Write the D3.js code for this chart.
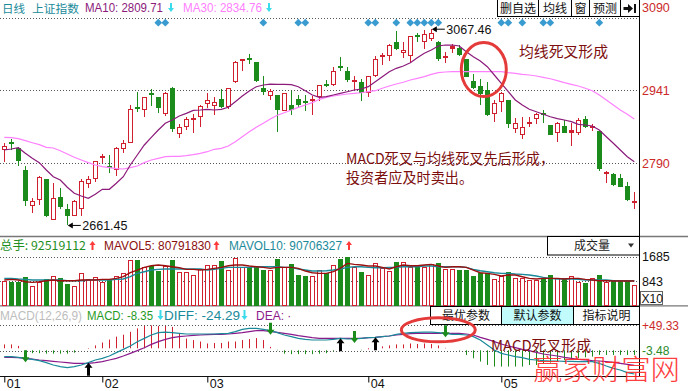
<!DOCTYPE html>
<html><head><meta charset="utf-8">
<script src="https://cdn.jsdelivr.net/npm/d3@7"></script>
<style>
html,body{margin:0;padding:0;background:#fff;}
svg{display:block;}
</style></head><body>
<svg id="c" width="688" height="391"></svg>
<script>
// ---------- data ----------
const openP = [2817,2833,2822,2776,2701,2714,2758,2673,2720,2696,2682,2696,2747,2757,2800,2782,2776,2820,2833,2905,2900,2934,2927,2891,2946,2850,2866,2880,2885,2912,
 2909,2923,2906,2958,3001,3006,2999,2946,2929,2931,2899,2910,2924,2917,2920,2927,2954,2953,2989,2982,2959,2958,2935,2971,3010,3012,3040,3018,3012,3053,
 3042,3047,3042,3008,3027,3028,3006,2960,2950,2942,2891,2917,2921,2860,2849,2872,2882,2892,2869,2852,2867,2852,2852,2882,2864,2857,2768,2768,2760,2744,2708];
const closeP = [2826,2832,2795,2711,2711,2762,2681,2718,2700,2682,2711,2753,2757,2794,2803,2780,2822,2831,2902,2903,2927,2932,2905,2935,2860,2866,2881,2882,2908,2922,
 2916,2906,2945,2999,3004,3004,2960,2938,2940,2900,2935,2900,2910,2915,2922,2951,2950,2980,2988,2962,2961,2935,2970,3005,3013,3034,3027,3024,3053,3051,
 3058,3060,3005,3010,3031,3015,2969,2945,2933,2890,2914,2936,2871,2874,2866,2874,2893,2890,2849,2874,2853,2857,2880,2866,2865,2779,2770,2745,2742,2714,2709];
const highP = [2831,2840,2823,2784,2718,2764,2758,2749,2739,2706,2714,2757,2764,2795,2809,2807,2823,2838,2911,2938,2927,2944,2928,2937,2948,2871,2885,2892,2910,2936,
 2928,2943,2946,3002,3006,3016,2999,2971,2943,2932,2936,2940,2931,2931,2929,2953,2963,2989,3010,2989,2971,2965,2970,3012,3018,3036,3064,3042,3053,3060,
 3066,3067.46,3043,3021,3037,3035,3006,2975,2964,2958,2921,2937,2921,2883,2885,2886,2895,2900,2869,2875,2880,2873,2884,2888,2871,2857,2775,2769,2768,2751,2731];
const lowP = [2793,2818,2784,2702,2688,2704,2679,2672,2695,2661.45,2681,2682,2738,2752,2790,2769,2764,2812,2832,2897,2886,2909,2895,2888,2855,2843,2859,2853,2866,2904,
 2890,2904,2902,2957,2982,2995,2958,2931,2920,2855,2898,2890,2904,2899,2889,2918,2947,2950,2980,2958,2942,2919,2928,2968,2993,3002,3024,3007,2998,3042,
 3026,3043,3001,2997,3018,3011,2968,2944,2910,2888,2876,2896,2864,2853,2840,2866,2871,2873,2848,2835,2852,2826,2849,2864,2857,2775,2750,2744,2740,2711,2695];
const ma10 = [2817.5,2819.6,2822.3,2810.7,2800.3,2791.3,2776.1,2762.3,2755.5,2740.4,2727.9,2722.4,2717.6,2725.9,2736.2,2736.2,2748.6,2762.3,2786.5,2807.2,2827.9,2843.8,2858.9,2872.7,2879.6,2887.9,2893.4,2899.6,2900.3,2901.7,
 2900.3,2901.6,2905.8,2917.5,2929.2,2939.6,2948.5,2952,2954,2953.4,2953.4,2952.7,2948.5,2940.2,2931.3,2926.5,2927.8,2931.3,2934.8,2938.1,2941.6,2943.7,2948.5,2958.8,2969.2,2979.5,2986.5,2991.3,2998.1,3008.5,
 3017.6,3024.4,3032.7,3034.7,3034.7,3032.7,3020.9,3010.5,3001.6,2989.9,2972.7,2955.5,2938.1,2921,2910.6,2901.7,2896.7,2891.4,2886.4,2882.3,2879.6,2876.1,2870.7,2869.2,2867.2,2858.9,2845,2831.4,2817.5,2803.7,2793.3];
const ma30 = [2843.8,2843,2840.9,2836.8,2832.6,2828.5,2823.1,2821.7,2816.1,2809.2,2802.4,2796.8,2791.3,2786.5,2783,2780.9,2778.8,2778.2,2780.9,2784.4,2791.3,2796.8,2800.3,2803.7,2804.4,2804.4,2805.7,2807.8,2810.7,2814,
 2819,2821,2825.8,2834.7,2845,2855.4,2864.5,2872.7,2881.6,2889.3,2894.7,2900.3,2905.8,2910.6,2915.4,2922.4,2926.5,2929.2,2931.3,2933.4,2934.8,2936,2938.1,2940.2,2945.2,2949.9,2954,2957.6,2962.3,2965.8,
 2969.2,2974.1,2977.5,2978.9,2979.5,2979.5,2979.5,2979.5,2979.5,2979.5,2979.5,2979.5,2977.5,2976.2,2974.1,2972.7,2970.6,2967.9,2965,2960.9,2956.8,2953.4,2949.9,2945.2,2940.2,2931.3,2921,2910.6,2900.3,2891.4,2881.6];
const volume = [845,822,822,971,672,822,902,1017,937,741,672,1109,902,971,822,902,1017,1109,1569,1569,1339,1362,1201,1362,1569,1167,1155,1052,1247,1397,
 1397,1534,1224,1638,1339,1339,1339,1224,1224,1603,1339,1431,1052,1017,1017,1224,1132,1397,1603,1684,1316,1155,1052,1454,1282,1190,1500,1500,1339,1339,
 1339,1431,1454,1247,1247,1224,1224,1029,1132,1109,902,1017,1155,937,937,879,879,937,1052,937,937,1017,822,787,937,1052,822,879,879,879,707];
const mavol5 = [879,902,879,822,799,822,856,879,856,856,856,879,879,879,902,902,937,994,1132,1224,1316,1374,1397,1374,1339,1305,1247,1247,1224,1247,
 1282,1316,1374,1397,1397,1362,1339,1316,1282,1316,1316,1316,1282,1190,1132,1109,1109,1167,1282,1454,1420,1397,1362,1362,1316,1259,1339,1397,1374,1374,
 1397,1420,1362,1316,1339,1339,1316,1224,1132,1109,1075,1017,1052,1052,994,937,914,937,937,937,914,937,937,902,879,856,856,845,845,845,845];
const mavol10 = [937,937,914,902,879,879,879,879,879,856,856,856,879,879,879,879,902,914,994,1109,1167,1224,1247,1259,1259,1259,1259,1259,1259,1224,
 1247,1282,1316,1316,1316,1316,1339,1339,1339,1339,1316,1316,1259,1224,1190,1190,1201,1224,1259,1316,1339,1339,1316,1305,1305,1316,1316,1339,1339,1339,
 1362,1362,1339,1339,1339,1339,1316,1247,1201,1167,1132,1109,1109,1086,1075,1052,1017,971,937,914,914,914,902,879,879,879,879,856,856,856,856];
const diff = [-15.2,-15.2,-16.5,-18.6,-20.6,-23.4,-27.5,-32.3,-35.7,-37.8,-35.7,-32.3,-27.5,-22,-18.6,-13.8,-6.9,-0.1,6.8,15.7,22.5,29.4,34.2,35.5,34.2,32.8,31.4,31.4,31.4,31.4,
 31.4,32.1,32.8,36.2,41,43.1,43.1,41,38.3,34.2,29.4,26,22.5,20.5,19.1,19.1,19.1,20.5,22.5,21.2,21.2,22.5,23.9,24.6,26,27.3,30.7,32.8,34.2,34.9,
 35.5,35.5,34.2,32.8,30.7,30.7,29.4,26,19.1,8.8,-1.5,-8.3,-11.7,-15.2,-17.2,-20.6,-22,-23.4,-24.1,-24.1,-24.7,-24.7,-25.4,-25.4,-25.4,-28.9,-34.3,-39.1,-42.6,-48,-50.8];
const dea = [-16.5,-16.5,-17.2,-18.6,-20,-22,-23.4,-24.7,-26.1,-27.5,-28.9,-28.9,-28.9,-27.5,-25.4,-22,-18.6,-13.8,-8.3,-2.8,3.3,10.2,15.7,20.5,23.9,26,27.3,28.7,29.4,30.1,
 30.7,30.7,31.4,32.8,34.2,36.2,38.3,38.3,36.9,34.9,32.8,30.7,28,26,23.9,22.5,22.5,22.5,22.5,22.5,22.5,22.5,23.9,24.6,26,27.3,29.4,30.7,32.1,32.8,
 32.8,32.8,32.8,32.8,32.8,32.8,31.4,29.4,24.6,20.5,15.7,10.9,6.8,3.3,-0.1,-2.8,-6.2,-9.7,-11.7,-13.8,-16.5,-18.6,-20.6,-22,-23.4,-24.1,-25.4,-26.8,-28.9,-30.9,-33];
const macdHist = [10,10,7,-3,-8,-8,-9,-9,-9,-9,-7,-2,1,8,14,20,26,30,36,43,48,49,48,48,46,33,22,19,16,12,
 13,13,16,16,19,21,23,19,5,-1,-9,-10,-10,-10,-10,-9,-8,-4,0,2,-2,-1,0,2,6,8,10,10,12,11,
 12,11,8,3,2,-3,-11.6,-18.5,-25.3,-32.2,-35.6,-35.6,-35.6,-35.6,-35.6,-32.2,-32.2,-28.8,-27.4,-25.3,-21.9,-20.5,-18.5,-16.4,-15,-11.6,-11.6,-11.6,-11.6,-11.6,-11.6];
const priceTicks = [3090, 2941, 2790];
const volTicks = [1685, 843];
const macdTicks = [49.33, -3.48];
const monthStarts = [0, 14, 29, 52, 71];
const monthLabels = ["01", "02", "03", "04", "05"];
const signalDays = [22,23,37,42,43,52,53,56,58,59,60,61,62,71,72,74,77,78,85];
const macdDeadCross = [3, 38, 50, 63];
const macdGoldenCross = [12, 48, 53];

// ---------- drawing ----------
const svg = d3.select("#c");
const n = openP.length;
const idx = d3.range(n);
const x = d3.scalePoint().domain(idx).range([4.3, 4.3 + 7 * (n - 1)]);
const col = i => Math.floor(x(i));
const yP = d3.scaleLinear().domain([2790, 3090]).range([163.3, 18.3]);
const yV = d3.scaleLinear().domain([0, 1685]).range([305.5, 256.7]);
const yM = d3.scaleLinear().domain([0, 49.33]).range([349.3, 325.3]);
const RED = "#d0202f", GREEN = "#1b8c1b";
const LAT = "'Liberation Sans', Arial, sans-serif";
const CJK = "'Noto Sans CJK SC', sans-serif";
const PLOT_R = 639.5;

svg.append("rect").attr("width", 688).attr("height", 391).attr("fill", "#fff");

// grid dotted lines
function grid(vals, sc) {
  svg.append("g").selectAll("line").data(vals).join("line")
    .attr("x1", 0).attr("x2", PLOT_R)
    .attr("y1", d => Math.round(sc(d)) + 0.5).attr("y2", d => Math.round(sc(d)) + 0.5)
    .attr("stroke", "#555").attr("stroke-dasharray", "1,2");
}
grid(priceTicks, yP); grid(volTicks, yV); grid(macdTicks, yM);

// panel frame lines
svg.append("line").attr("x1", 0).attr("x2", 688).attr("y1", 236.5).attr("y2", 236.5).attr("stroke", "#777").attr("stroke-width", 1.5);
svg.append("line").attr("x1", 0).attr("x2", 688).attr("y1", 305.8).attr("y2", 305.8).attr("stroke", "#777").attr("stroke-width", 1.2);
svg.append("line").attr("x1", 0).attr("x2", PLOT_R).attr("y1", 376.5).attr("y2", 376.5).attr("stroke", "#111");

// candles
const cg = svg.append("g");
idx.forEach(i => {
  const c = col(i), up = closeP[i] >= openP[i];
  const color = up ? RED : GREEN;
  const top = Math.round(yP(Math.max(openP[i], closeP[i])));
  const bot = Math.round(yP(Math.min(openP[i], closeP[i])));
  const hi = Math.round(yP(highP[i])), lo = Math.round(yP(lowP[i]));
  if (up) {
    if (hi < top) cg.append("line").attr("x1", c + 0.5).attr("x2", c + 0.5).attr("y1", hi).attr("y2", top).attr("stroke", color);
    if (lo > bot) cg.append("line").attr("x1", c + 0.5).attr("x2", c + 0.5).attr("y1", bot).attr("y2", lo).attr("stroke", color);
    if (bot - top <= 2) {
      cg.append("rect").attr("x", c - 2).attr("y", top - 1).attr("width", 5).attr("height", Math.max(2, bot - top + 1)).attr("fill", color);
    } else {
      cg.append("rect").attr("x", c - 1.5).attr("y", top + 0.5).attr("width", 4).attr("height", bot - top - 1)
        .attr("fill", "#fff").attr("stroke", color);
    }
  } else {
    cg.append("line").attr("x1", c + 0.5).attr("x2", c + 0.5).attr("y1", hi).attr("y2", lo).attr("stroke", color);
    cg.append("rect").attr("x", c - 2).attr("y", top - (bot - top < 2 ? 1 : 0)).attr("width", 5).attr("height", Math.max(2, bot - top)).attr("fill", color);
  }
});

// moving averages
const lineP = d3.line().x((d, i) => x(i)).y(d => yP(d));
svg.append("path").attr("d", lineP(ma30)).attr("fill", "none").attr("stroke", "#ff80ff").attr("stroke-width", 1.2);
svg.append("path").attr("d", lineP(ma10)).attr("fill", "none").attr("stroke", "#8b1a7a").attr("stroke-width", 1.2);

// signal diamonds
svg.append("g").selectAll("path").data(signalDays).join("path")
  .attr("d", d3.symbol(d3.symbolSquare, 30)())
  .attr("transform", d => `translate(${x(d)},22.7) rotate(45)`)
  .attr("fill", "#3a9bd0");

// volume bars
const vg = svg.append("g");
idx.forEach(i => {
  const c = col(i), up = closeP[i] >= openP[i];
  const t = Math.round(yV(volume[i])), b = Math.round(yV(0));
  if (up) vg.append("rect").attr("x", c - 1.5).attr("y", t + 0.5).attr("width", 4).attr("height", b - t - 1).attr("fill", "#fff").attr("stroke", RED);
  else vg.append("rect").attr("x", c - 2).attr("y", t).attr("width", 5).attr("height", b - t).attr("fill", GREEN);
});
const lineV = d3.line().x((d, i) => x(i)).y(d => yV(d));
svg.append("path").attr("d", lineV(mavol10)).attr("fill", "none").attr("stroke", "#1a8a9a").attr("stroke-width", 1.4);
svg.append("path").attr("d", lineV(mavol5)).attr("fill", "none").attr("stroke", "#9a0f0f").attr("stroke-width", 1.4);

// MACD histogram and lines
svg.append("g").selectAll("line").data(macdHist).join("line")
  .attr("x1", (d, i) => col(i) + 0.5).attr("x2", (d, i) => col(i) + 0.5)
  .attr("y1", d => d >= 0 ? yM(0) - 1 : yM(0) + 1).attr("y2", d => yM(d))
  .attr("stroke", d => d >= 0 ? RED : GREEN);
const lineM = d3.line().x((d, i) => x(i)).y(d => yM(d));
svg.append("path").attr("d", lineM(dea)).attr("fill", "none").attr("stroke", "#8b1a8b").attr("stroke-width", 1.2);
svg.append("path").attr("d", lineM(diff)).attr("fill", "none").attr("stroke", "#1a8a9a").attr("stroke-width", 1.2);

// arrows helper: tail at y0, tip at y1
function vArrow(g, cx, y0, y1, color, headW, shaftW, headL) {
  const dir = y1 > y0 ? 1 : -1;
  const hb = y1 - dir * headL;
  g.append("path").attr("d",
    `M${cx - shaftW / 2},${y0} L${cx + shaftW / 2},${y0} L${cx + shaftW / 2},${hb} L${cx + headW / 2},${hb} L${cx},${y1} L${cx - headW / 2},${hb} L${cx - shaftW / 2},${hb} Z`)
    .attr("fill", color);
}
const ag = svg.append("g");
macdDeadCross.forEach(i => { const t = yM(diff[i]) + 4; vArrow(ag, col(i) + 0.5, t - 12, t, GREEN, 8, 3, 5); });
macdGoldenCross.forEach(i => { const t = yM(diff[i]); vArrow(ag, col(i) + 0.5, t + 13, t, "#000", 8, 3, 5); });

// right axes
function rightAxis(sc, vals, fmt, color, size) {
  const g = svg.append("g").attr("transform", `translate(${PLOT_R},0)`)
    .call(d3.axisRight(sc).tickValues(vals).tickSize(0).tickPadding(2.5).tickFormat(fmt));
  g.select(".domain").remove();
  g.selectAll("text").attr("fill", typeof color === "function" ? color : () => color)
    .style("font-family", LAT).style("font-size", size + "px");
  return g;
}
const axP = rightAxis(yP, priceTicks, d3.format("d"), "#cc2a2a", 12.5);
axP.selectAll(".tick").filter(d => d === 3090).select("text").attr("y", -10.8);
rightAxis(yV, volTicks, d3.format("d"), "#111", 12.5);
rightAxis(yM, macdTicks, d => (d > 0 ? "+" : "") + d.toFixed(2), d => d > 0 ? "#cc2a2a" : "#2a8a2a", 12);
svg.append("line").attr("x1", PLOT_R).attr("x2", PLOT_R).attr("y1", 0).attr("y2", 377).attr("stroke", "#000");

// X10 box
svg.append("rect").attr("x", 640.5).attr("y", 291.5).attr("width", 22).attr("height", 13).attr("fill", "#fff").attr("stroke", "#666");
svg.append("text").attr("x", 641.5).attr("y", 302.5).text("X10").style("font-family", LAT).style("font-size", "12px").attr("fill", "#111");

// date axis
const axX = svg.append("g").attr("transform", "translate(0,376.5)")
  .call(d3.axisBottom(x).tickValues(monthStarts).tickSize(6).tickFormat((d, i) => monthLabels[i]));
axX.select(".domain").remove();
axX.selectAll("line").attr("stroke", "#000");
axX.selectAll("text").attr("text-anchor", "start").attr("x", 2).attr("y", 3).attr("fill", "#111")
  .style("font-family", LAT).style("font-size", "12.5px");

// ---------- texts ----------
function txt(xp, yp, s, color, size, fam, anchor, len) {
  const t = svg.append("text").attr("x", xp).attr("y", yp).text(s).attr("fill", color)
    .style("font-family", fam || LAT).style("font-size", size + "px").attr("text-anchor", anchor || "start");
  if (len) t.attr("textLength", len).attr("lengthAdjust", "spacingAndGlyphs");
  return t;
}
const CYAN = "#3adcec";
// header
txt(2, 12.5, "日线", "#1a8a9a", 11.5, CJK);
txt(32, 12.5, "上证指数", "#1a8a9a", 11.5, CJK, "start", 47);
txt(85, 12, "MA10: 2809.71", "#8b1a7a", 12, LAT, "start", 78);
vArrow(svg, 171, 3, 12, CYAN, 6, 2, 4);
txt(183, 12, "MA30: 2834.76", "#ff80ff", 12, LAT, "start", 79);
vArrow(svg, 269, 3, 12, CYAN, 6, 2, 4);

// top buttons
const btn = svg.append("g");
[[497.5, 538.5, "删自选"], [538.5, 571.5, "均线"], [571.5, 589.5, "窗"], [589.5, 620.5, "预测"], [620.5, 639.5, ""]].forEach(b => {
  btn.append("rect").attr("x", b[0]).attr("y", -0.5).attr("width", b[1] - b[0]).attr("height", 17).attr("fill", "#fff").attr("stroke", "#000");
  if (b[2]) txt((b[0] + b[1]) / 2, 12.5, b[2], "#111", 12, CJK, "middle");
});
btn.append("path").attr("d", "M623.5,7 L628,7 L628,4 L633,8.5 L628,13 L628,10 L623.5,10 Z M634,4 L636,4 L636,13 L634,13 Z").attr("fill", "#111");

// max / min labels
const iMax = d3.maxIndex(highP), iMin = d3.minIndex(lowP);
function leftArrowLabel(i, v, label) {
  const ax = x(i) + 0.5, ay = yP(v);
  svg.append("line").attr("x1", ax + 3).attr("x2", ax + 13).attr("y1", ay).attr("y2", ay).attr("stroke", "#000");
  svg.append("path").attr("d", `M${ax},${ay} L${ax + 5},${ay - 3} L${ax + 5},${ay + 3} Z`).attr("fill", "#000");
  txt(ax + 14.5, ay + 4.5, label, "#111", 12.5, LAT);
}
leftArrowLabel(iMax, highP[iMax], "3067.46");
leftArrowLabel(iMin, lowP[iMin], "2661.45");

// volume header
txt(0, 250, "总手: 92519112", "#1f8f1f", 12, CJK, "start", 86);
vArrow(svg, 92.5, 250, 241, "#ff3a3a", 6, 2, 4);
txt(104, 250, "MAVOL5: 80791830", "#8b0f0f", 12, LAT, "start", 107);
vArrow(svg, 216.5, 250, 241, "#ff3a3a", 6, 2, 4);
txt(229, 250, "MAVOL10: 90706327", "#1a8a9a", 12, LAT, "start", 113);
vArrow(svg, 349, 250, 241, "#ff3a3a", 6, 2, 4);

// volume dropdown
svg.append("rect").attr("x", 547.5).attr("y", 236.5).attr("width", 92).attr("height", 18.5).attr("fill", "#fff").attr("stroke", "#000");
txt(592, 250, "成交量", "#222", 12, CJK, "middle");
svg.append("path").attr("d", "M628,243.5 L634,243.5 L631,247.5 Z").attr("fill", "#333");

// MACD header
txt(0, 320, "MACD(12,26,9)", "#bdbdbd", 12, LAT, "start", 82);
txt(87, 320, "MACD: -8.35", "#1f9a1f", 12, LAT, "start", 66);
vArrow(svg, 160.5, 310, 320, CYAN, 6, 2, 4);
txt(164, 320, "DIFF: -24.29", "#1a8a9a", 12, LAT, "start", 76);
vArrow(svg, 244.5, 310, 320, CYAN, 6, 2, 4);
txt(256, 320, "DEA: ·", "#8b1a8b", 12, LAT);

// MACD buttons
[[430.5, 501.5, "最优参数", "#fff"], [501.5, 573.5, "默认参数", "#c2fbfb"], [573.5, 639.5, "指标说明", "#fff"]].forEach(b => {
  svg.append("rect").attr("x", b[0]).attr("y", 306.5).attr("width", b[1] - b[0]).attr("height", 18).attr("fill", b[3]).attr("stroke", "#000");
  txt((b[0] + b[1]) / 2, 320, b[2], "#111", 12, CJK, "middle");
});

// annotations
const ANN = "#7d0f0f";
svg.append("ellipse").attr("cx", (x(68) + x(69)) / 2).attr("cy", yP(2984)).attr("rx", 22.5).attr("ry", 27)
  .attr("fill", "none").attr("stroke", "#e53a3a").attr("stroke-width", 3);
txt(519, 56.5, "均线死叉形成", ANN, 15, CJK, "start", 89);
txt(346, 163.5, "MACD死叉与均线死叉先后形成，", ANN, 15, CJK, "start", 208);
txt(346, 183, "投资者应及时卖出。", ANN, 15, CJK, "start", 127);
svg.append("ellipse").attr("cx", x(62)).attr("cy", yM(40)).attr("rx", 37).attr("ry", 12)
  .attr("fill", "none").attr("stroke", "#e53a3a").attr("stroke-width", 3);
txt(491, 351, "MACD死叉形成", ANN, 15, CJK, "start", 100);

// watermark
txt(533, 380, "赢家财富网", "#ff2a2a", 28, CJK, "start", 147).attr("font-weight", 300).attr("opacity", 0.9);
</script>
</body></html>
